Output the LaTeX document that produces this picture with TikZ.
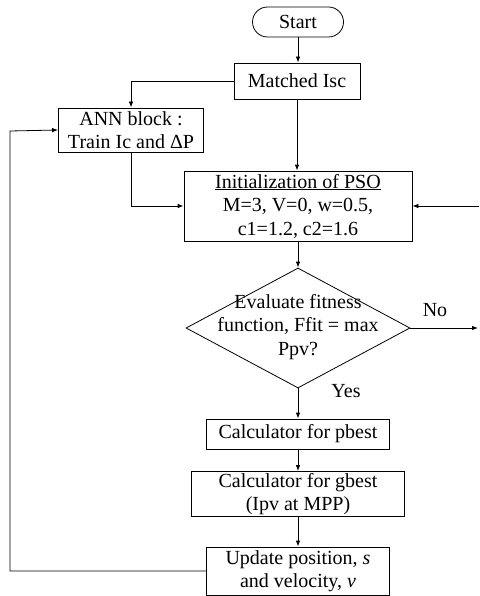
\documentclass[tikz,border=0pt]{standalone}
\usepackage{fontspec}
\setmainfont{Liberation Serif}
\usetikzlibrary{shapes.geometric}
\usetikzlibrary{positioning}
\usetikzlibrary{arrows.meta}

\begin{document}
\begin{tikzpicture}
	[
		x = 1pt, y = -1pt,
		font = \fontsize{20}{23.5}\selectfont,
		box/.style = {rectangle, draw = black, line width = 0.8pt, inner sep = 0pt, align = center},
		terminal/.style = {box, rounded corners = 15pt, minimum width = 91pt, minimum height = 30pt},
		decision/.style = {diamond, draw = black, line width = 0.8pt, minimum width = 224pt, minimum height = 120pt, inner sep = 0pt},
		flow/.style = {line width = 0.8pt, -{Latex[length = 6pt, width = 4.5pt]}},
	]
	\useasboundingbox (0,0) rectangle (479,596);
	% blocks
	\node (start) [terminal] at (298,22) {Start};
	\node (matched) [box, minimum width = 126pt, minimum height = 36pt] at (297,81) {Matched Isc};
	\node (ann) [box, minimum width = 145pt, minimum height = 44pt] at (131,130) {ANN block :\\Train Ic and ΔP};
	\node (init) [box, minimum width = 228pt, minimum height = 70pt] at (298,206) {\underline{Initialization of PSO}\\M=3, V=0, w=0.5,\\c1=1.2, c2=1.6};
	\node (dec) [decision] at (298,328) {};
	\node (dectext) [align = center, inner sep = 0pt] at (298,327) {Evaluate fitness\\function, Ffit = max\\Ppv?};
	\node (pbest) [box, minimum width = 183pt, minimum height = 30pt] at (298,434) {Calculator for pbest};
	\node (gbest) [box, minimum width = 213pt, minimum height = 45pt] at (298,494) {Calculator for gbest\\(Ipv at MPP)};
	\node (update) [box, minimum width = 183pt, minimum height = 48pt] at (298,571) {Update position, \textit{s}\\and velocity, \textit{v}};
	\node (nolabel) at (435,310) {No};
	\node (yeslabel) at (346,391) {Yes};
	\coordinate (noend) at (478,328);
	\coordinate (loopin) at (479,206);
	\coordinate (loopcorner) at (10,131);
	% connectors
	\draw [flow] (start) -- (start |- matched.north);
	\draw [flow] (matched.west) -| (ann.north);
	\draw [flow] (matched.south) -- (matched.south |- init.north);
	\draw [flow] (ann.south) |- (init.west);
	\draw [flow] (loopin) -- (init.east);
	\draw [flow] (init.south) -- (dec.north);
	\draw [flow] (dec.east) -- (noend);
	\draw [flow] (dec.south) -- (pbest.north);
	\draw [flow] (pbest) -- (gbest);
	\draw [flow] (gbest) -- (update);
	\draw [flow] (update.west) -| (loopcorner) -- (ann.west);
\end{tikzpicture}
\end{document}
